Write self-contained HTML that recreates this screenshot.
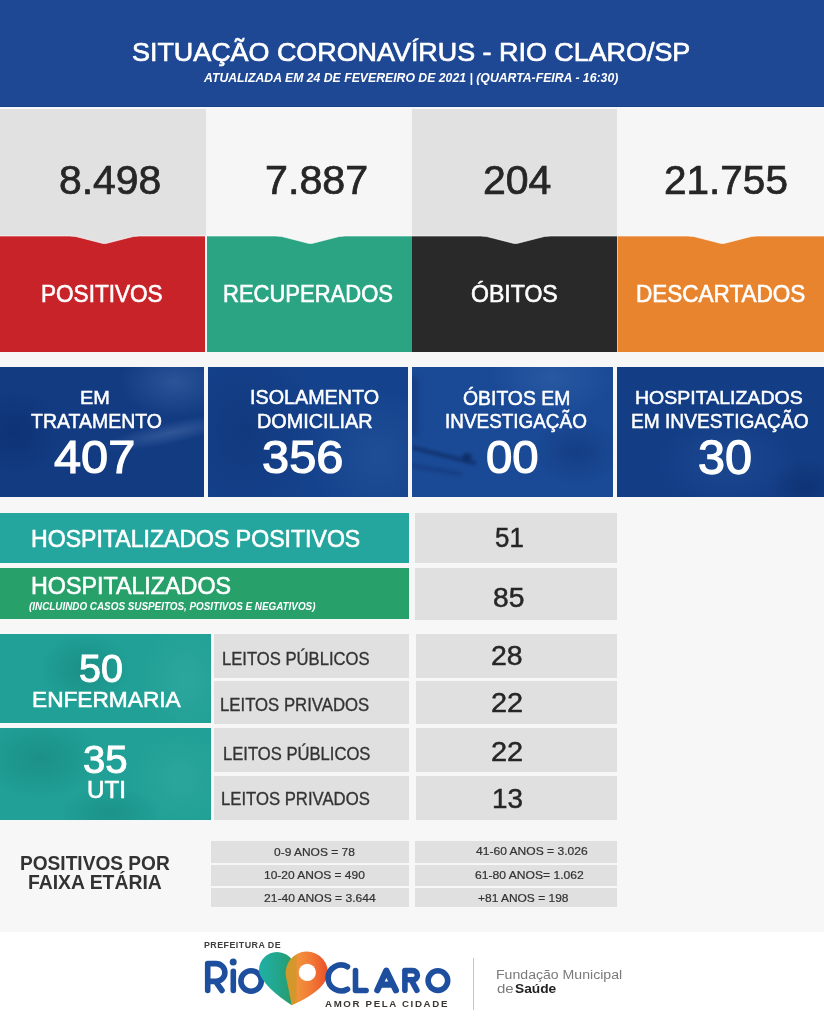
<!DOCTYPE html>
<html><head><meta charset="utf-8">
<style>
html,body{margin:0;padding:0;}
body{width:824px;height:1024px;position:relative;overflow:hidden;background:#f7f7f7;font-family:"Liberation Sans",sans-serif;}
.b{position:absolute;}
.t{position:absolute;white-space:nowrap;line-height:1;transform-origin:0 0;}
</style></head><body>
<!-- header -->
<div class="b" style="left:0;top:0;width:824px;height:106.5px;background:#1e4894;"></div>
<div class="b" style="left:0;top:105.5px;width:824px;height:1px;background:#1b4288;"></div>
<div class="b" style="left:0;top:106.5px;width:824px;height:2px;background:#f4f8fd;"></div>
<!-- numbers row -->
<div class="b" style="left:0;top:108.5px;width:206px;height:127.5px;background:#e2e1e2;"></div>
<div class="b" style="left:206px;top:108.5px;width:205.5px;height:127.5px;background:#f6f6f6;"></div>
<div class="b" style="left:411.5px;top:108.5px;width:205.5px;height:127.5px;background:#e2e1e2;"></div>
<div class="b" style="left:617px;top:108.5px;width:207px;height:127.5px;background:#f6f6f6;"></div>
<!-- colored row -->
<div class="b" style="left:0;top:236px;width:205.2px;height:116px;background:#c9232a;"></div>
<div class="b" style="left:206.5px;top:236px;width:205px;height:116px;background:#2aa482;"></div>
<div class="b" style="left:411.5px;top:236px;width:205.5px;height:116px;background:#292929;"></div>
<div class="b" style="left:617px;top:236px;width:207px;height:116px;background:#e8842e;"></div>
<div class="b" style="left:616.6px;top:236px;width:1px;height:116px;background:rgba(255,240,225,0.55);"></div>
<svg class="b" style="left:0;top:0" width="824" height="260" viewBox="0 0 824 260">
<path d="M69.5 235 L69.5 236 Q75.5 236 82.5 238.2 L102.0 243.2 Q104.5 243.9 107.0 243.2 L126.5 238.2 Q133.5 236 139.5 236 L139.5 235 Z" fill="#e2e1e2"/><path d="M275.5 235 L275.5 236 Q281.5 236 288.5 238.2 L308.0 243.2 Q310.5 243.9 313.0 243.2 L332.5 238.2 Q339.5 236 345.5 236 L345.5 235 Z" fill="#f6f6f6"/><path d="M480.5 235 L480.5 236 Q486.5 236 493.5 238.2 L513.0 243.2 Q515.5 243.9 518.0 243.2 L537.5 238.2 Q544.5 236 550.5 236 L550.5 235 Z" fill="#e2e1e2"/><path d="M687.5 235 L687.5 236 Q693.5 236 700.5 238.2 L720.0 243.2 Q722.5 243.9 725.0 243.2 L744.5 238.2 Q751.5 236 757.5 236 L757.5 235 Z" fill="#f6f6f6"/>
<path d="M0 236 L69.5 236 Q75.5 236 82.5 238.2 L102.0 243.2 Q104.5 243.9 107.0 243.2 L126.5 238.2 Q133.5 236 139.5 236 L275.5 236 Q281.5 236 288.5 238.2 L308.0 243.2 Q310.5 243.9 313.0 243.2 L332.5 238.2 Q339.5 236 345.5 236 L480.5 236 Q486.5 236 493.5 238.2 L513.0 243.2 Q515.5 243.9 518.0 243.2 L537.5 238.2 Q544.5 236 550.5 236 L687.5 236 Q693.5 236 700.5 238.2 L720.0 243.2 Q722.5 243.9 725.0 243.2 L744.5 238.2 Q751.5 236 757.5 236 L824 236" fill="none" stroke="#ffffff" stroke-opacity="0.6" stroke-width="1"/>
</svg>
<!-- blue boxes -->
<div class="b" style="left:0;top:367px;width:204.4px;height:130px;overflow:hidden;background:#123b82;">
  <div class="b" style="left:120px;top:-20px;width:110px;height:70px;border-radius:50%;background:radial-gradient(closest-side,rgba(95,135,200,0.32),rgba(95,135,200,0));"></div>
  <div class="b" style="left:100px;top:55px;width:140px;height:22px;transform:rotate(-12deg);background:radial-gradient(closest-side,rgba(120,150,200,0.30),rgba(120,150,200,0));"></div>
  <div class="b" style="left:-30px;top:20px;width:90px;height:90px;background:radial-gradient(closest-side,rgba(8,35,90,0.35),rgba(8,35,90,0));"></div>
</div>
<div class="b" style="left:208px;top:367px;width:199.8px;height:130px;overflow:hidden;background:#15428c;">
  <div class="b" style="left:-40px;top:-30px;width:150px;height:190px;background:radial-gradient(closest-side,rgba(10,40,100,0.35),rgba(10,40,100,0));"></div>
  <div class="b" style="left:100px;top:20px;width:140px;height:140px;background:radial-gradient(closest-side,rgba(60,110,180,0.25),rgba(60,110,180,0));"></div>
</div>
<div class="b" style="left:411.5px;top:367px;width:201.4px;height:130px;overflow:hidden;background:#1a4a96;">
  <div class="b" style="left:80px;top:-30px;width:120px;height:80px;background:radial-gradient(closest-side,rgba(70,115,185,0.35),rgba(70,115,185,0));"></div>
  <div class="b" style="left:0px;top:78px;width:66px;height:5px;transform:rotate(14deg);transform-origin:0 50%;background:rgba(12,40,95,0.55);filter:blur(1.5px);"></div>
  <div class="b" style="left:50px;top:86px;width:10px;height:8px;border-radius:50%;background:rgba(10,35,85,0.6);filter:blur(1.5px);"></div>
  <div class="b" style="left:-10px;top:100px;width:60px;height:4px;transform:rotate(10deg);background:rgba(12,40,95,0.4);filter:blur(2px);"></div>
  <div class="b" style="left:-10px;top:10px;width:16px;height:60px;background:rgba(12,40,95,0.35);filter:blur(3px);"></div>
  <div class="b" style="left:120px;top:50px;width:90px;height:70px;background:radial-gradient(closest-side,rgba(10,40,100,0.35),rgba(10,40,100,0));"></div>
</div>
<div class="b" style="left:617.1px;top:367px;width:206.9px;height:130px;overflow:hidden;background:#133e86;">
  <div class="b" style="left:40px;top:50px;width:140px;height:90px;background:radial-gradient(closest-side,rgba(50,95,170,0.30),rgba(50,95,170,0));"></div>
  <div class="b" style="left:150px;top:90px;width:80px;height:60px;background:radial-gradient(closest-side,rgba(10,35,90,0.4),rgba(10,35,90,0));"></div>
</div>
<!-- hosp rows -->
<div class="b" style="left:0;top:512.7px;width:409.2px;height:50.5px;background:#24a59d;"></div>
<div class="b" style="left:0;top:568px;width:409.2px;height:50.5px;background:#28a06a;"></div>
<div class="b" style="left:414.5px;top:512.7px;width:202.5px;height:50.3px;background:#e1e0e1;"></div>
<div class="b" style="left:414.5px;top:568px;width:202.5px;height:51.6px;background:#e1e0e1;"></div>
<!-- enfermaria / uti -->
<div class="b" style="left:0;top:633.6px;width:211px;height:89.8px;overflow:hidden;background:#20a096;">
  <div class="b" style="left:40px;top:0px;width:90px;height:70px;background:radial-gradient(closest-side,rgba(20,120,115,0.45),rgba(20,120,115,0));"></div>
  <div class="b" style="left:140px;top:-10px;width:90px;height:110px;background:radial-gradient(closest-side,rgba(70,180,170,0.35),rgba(70,180,170,0));"></div>
</div>
<div class="b" style="left:0;top:728px;width:211px;height:92px;overflow:hidden;background:#20a096;">
  <div class="b" style="left:-20px;top:-10px;width:120px;height:80px;background:radial-gradient(closest-side,rgba(20,120,115,0.40),rgba(20,120,115,0));"></div>
  <div class="b" style="left:130px;top:0px;width:100px;height:100px;background:radial-gradient(closest-side,rgba(70,180,170,0.30),rgba(70,180,170,0));"></div>
  <div class="b" style="left:60px;top:60px;width:100px;height:50px;background:radial-gradient(closest-side,rgba(20,120,115,0.35),rgba(20,120,115,0));"></div>
</div>
<div class="b" style="left:214.2px;top:634px;width:194.8px;height:43.5px;background:#e1e0e1;"></div>
<div class="b" style="left:214.2px;top:681.4px;width:194.8px;height:42.6px;background:#e1e0e1;"></div>
<div class="b" style="left:214.2px;top:727.7px;width:194.8px;height:44px;background:#e1e0e1;"></div>
<div class="b" style="left:214.2px;top:775.7px;width:194.8px;height:44.3px;background:#e1e0e1;"></div>
<div class="b" style="left:415.5px;top:634px;width:201.5px;height:43.5px;background:#e1e0e1;"></div>
<div class="b" style="left:415.5px;top:681.4px;width:201.5px;height:42.6px;background:#e1e0e1;"></div>
<div class="b" style="left:415.5px;top:727.7px;width:201.5px;height:44px;background:#e1e0e1;"></div>
<div class="b" style="left:415.5px;top:775.7px;width:201.5px;height:44.3px;background:#e1e0e1;"></div>
<!-- age table -->
<div class="b" style="left:211.2px;top:841.3px;width:197.5px;height:21.9px;background:#e1e0e1;"></div>
<div class="b" style="left:211.2px;top:864.5px;width:197.5px;height:21.5px;background:#e1e0e1;"></div>
<div class="b" style="left:211.2px;top:887.5px;width:197.5px;height:19.3px;background:#e1e0e1;"></div>
<div class="b" style="left:415.3px;top:841.3px;width:201.7px;height:21.9px;background:#e1e0e1;"></div>
<div class="b" style="left:415.3px;top:864.5px;width:201.7px;height:21.5px;background:#e1e0e1;"></div>
<div class="b" style="left:415.3px;top:887.5px;width:201.7px;height:19.3px;background:#e1e0e1;"></div>
<!-- footer -->
<div class="b" style="left:0;top:931.5px;width:824px;height:93px;background:#ffffff;"></div>
<div class="b" style="left:472.6px;top:957.5px;width:1.5px;height:52px;background:#c4c4c4;"></div>
<svg class="b" style="left:0;top:930px" width="824" height="94" viewBox="0 930 824 94">
<defs>
<linearGradient id="gt" x1="259" y1="0" x2="298" y2="0" gradientUnits="userSpaceOnUse"><stop offset="0" stop-color="#20b0a6"/><stop offset="0.5" stop-color="#22a58a"/><stop offset="1" stop-color="#2b985a"/></linearGradient>
<linearGradient id="go" x1="285" y1="0" x2="328" y2="0" gradientUnits="userSpaceOnUse"><stop offset="0" stop-color="#cf9a2c"/><stop offset="0.24" stop-color="#d6962b"/><stop offset="0.30" stop-color="#f0923c"/><stop offset="0.6" stop-color="#f27a35"/><stop offset="1" stop-color="#e9502a"/></linearGradient>
</defs>
<g fill="none" stroke="#1e4f9f" stroke-width="5.6" stroke-linecap="round" stroke-linejoin="round">
<path d="M207.7 963.6 L207.7 990.5 M207.7 963.6 L216 963.6 A8.9 8.9 0 0 1 216 981.4 L207.7 981.4 M215.5 981.4 L222 990.5"/>
<path d="M233.3 971.3 L233.3 990.5"/>
<circle cx="251.1" cy="981" r="10.2"/>
</g>
<circle cx="233.2" cy="961.9" r="3.5" fill="#1e4f9f"/>
<path d="M291.7 1005.3 Q265 988 259.27 973.1 A18 18 0 0 1 294.39 965.34 Z" fill="url(#gt)"/>
<path d="M291.7 1005.3 Q322 992 327.68 976.5 A21.2 21.2 0 1 0 286.06 977.2 Q288.6 989 291.7 1005.3 Z" fill="url(#go)"/>
<circle cx="307.3" cy="972.4" r="8.6" fill="#ffffff"/>
<g fill="none" stroke="#1e4f9f" stroke-width="5.6" stroke-linecap="round" stroke-linejoin="round">
<path d="M347.5 966.7 A12.95 12.95 0 1 0 347.5 989.2"/>
<path d="M355.5 970.6 L355.5 990.5 L366.1 990.5"/>
<path d="M377.3 990.3 L386.3 970.6 L395.9 990.3 M380 984.6 L393 984.6" stroke-width="6.2"/>
<path d="M404.9 970.6 L404.9 990.3 M404.9 970.6 L412.8 970.6 A4.6 4.6 0 0 1 412.8 979.8 L404.9 979.8 M411.2 979.8 L416.9 990.3"/>
<circle cx="437.9" cy="980.6" r="9.8"/>
</g>
</svg>

<div class="t" style="left:132.44px;top:39.42px;font-size:26.61px;font-weight:normal;font-style:normal;color:#ffffff;transform:scaleX(1.0105);-webkit-text-stroke:0.69px #ffffff">SITUAÇÃO CORONAVÍRUS - RIO CLARO/SP</div>
<div class="t" style="left:203.95px;top:71.12px;font-size:13.08px;font-weight:bold;font-style:italic;color:#ffffff;transform:scaleX(0.9366)">ATUALIZADA EM 24 DE FEVEREIRO DE 2021 | (QUARTA-FEIRA - 16:30)</div>
<div class="t" style="left:58.53px;top:159.69px;font-size:40.33px;font-weight:normal;font-style:normal;color:#262626;transform:scaleX(1.0140);-webkit-text-stroke:0.73px #262626">8.498</div>
<div class="t" style="left:264.91px;top:159.69px;font-size:40.33px;font-weight:normal;font-style:normal;color:#262626;transform:scaleX(1.0223);-webkit-text-stroke:0.73px #262626">7.887</div>
<div class="t" style="left:483.12px;top:159.69px;font-size:40.33px;font-weight:normal;font-style:normal;color:#262626;transform:scaleX(1.0162);-webkit-text-stroke:0.73px #262626">204</div>
<div class="t" style="left:663.84px;top:159.69px;font-size:40.33px;font-weight:normal;font-style:normal;color:#262626;transform:scaleX(1.0049);-webkit-text-stroke:0.73px #262626">21.755</div>
<div class="t" style="left:41.13px;top:282.36px;font-size:24.00px;font-weight:normal;font-style:normal;color:#ffffff;transform:scaleX(0.9398);-webkit-text-stroke:0.62px #ffffff">POSITIVOS</div>
<div class="t" style="left:223.17px;top:282.36px;font-size:24.00px;font-weight:normal;font-style:normal;color:#ffffff;transform:scaleX(0.9170);-webkit-text-stroke:0.62px #ffffff">RECUPERADOS</div>
<div class="t" style="left:471.20px;top:282.62px;font-size:23.71px;font-weight:normal;font-style:normal;color:#ffffff;transform:scaleX(0.9729);-webkit-text-stroke:0.62px #ffffff">ÓBITOS</div>
<div class="t" style="left:636.13px;top:282.36px;font-size:24.00px;font-weight:normal;font-style:normal;color:#ffffff;transform:scaleX(0.9384);-webkit-text-stroke:0.62px #ffffff">DESCARTADOS</div>
<div class="t" style="left:79.82px;top:388.32px;font-size:19.05px;font-weight:normal;font-style:normal;color:#ffffff;transform:scaleX(1.0454);-webkit-text-stroke:0.50px #ffffff">EM</div>
<div class="t" style="left:30.51px;top:411.72px;font-size:19.75px;font-weight:normal;font-style:normal;color:#ffffff;transform:scaleX(0.9865);-webkit-text-stroke:0.51px #ffffff">TRATAMENTO</div>
<div class="t" style="left:54.14px;top:434.41px;font-size:46.90px;font-weight:normal;font-style:normal;color:#ffffff;transform:scaleX(1.0392);-webkit-text-stroke:1.22px #ffffff">407</div>
<div class="t" style="left:249.93px;top:388.08px;font-size:19.33px;font-weight:normal;font-style:normal;color:#ffffff;transform:scaleX(1.0213);-webkit-text-stroke:0.50px #ffffff">ISOLAMENTO</div>
<div class="t" style="left:256.92px;top:411.96px;font-size:19.47px;font-weight:normal;font-style:normal;color:#ffffff;transform:scaleX(1.0191);-webkit-text-stroke:0.51px #ffffff">DOMICILIAR</div>
<div class="t" style="left:262.10px;top:433.92px;font-size:46.08px;font-weight:normal;font-style:normal;color:#ffffff;transform:scaleX(1.0585);-webkit-text-stroke:1.20px #ffffff">356</div>
<div class="t" style="left:463.03px;top:389.18px;font-size:19.33px;font-weight:normal;font-style:normal;color:#ffffff;transform:scaleX(1.0027);-webkit-text-stroke:0.50px #ffffff">ÓBITOS EM</div>
<div class="t" style="left:444.80px;top:411.84px;font-size:19.61px;font-weight:normal;font-style:normal;color:#ffffff;transform:scaleX(0.9643);-webkit-text-stroke:0.51px #ffffff">INVESTIGAÇÃO</div>
<div class="t" style="left:486.12px;top:433.69px;font-size:46.35px;font-weight:normal;font-style:normal;color:#ffffff;transform:scaleX(1.0211);-webkit-text-stroke:1.21px #ffffff">00</div>
<div class="t" style="left:635.44px;top:388.10px;font-size:19.19px;font-weight:normal;font-style:normal;color:#ffffff;transform:scaleX(1.0167);-webkit-text-stroke:0.50px #ffffff">HOSPITALIZADOS</div>
<div class="t" style="left:630.77px;top:411.84px;font-size:19.61px;font-weight:normal;font-style:normal;color:#ffffff;transform:scaleX(0.9760);-webkit-text-stroke:0.51px #ffffff">EM INVESTIGAÇÃO</div>
<div class="t" style="left:697.71px;top:432.79px;font-size:48.53px;font-weight:normal;font-style:normal;color:#ffffff;transform:scaleX(1.0020);-webkit-text-stroke:1.26px #ffffff">30</div>
<div class="t" style="left:30.50px;top:526.69px;font-size:23.86px;font-weight:normal;font-style:normal;color:#ffffff;transform:scaleX(0.9676);-webkit-text-stroke:0.62px #ffffff">HOSPITALIZADOS POSITIVOS</div>
<div class="t" style="left:31.38px;top:574.54px;font-size:23.56px;font-weight:normal;font-style:normal;color:#ffffff;transform:scaleX(0.9883);-webkit-text-stroke:0.61px #ffffff">HOSPITALIZADOS</div>
<div class="t" style="left:29.35px;top:601.32px;font-size:10.61px;font-weight:bold;font-style:italic;color:#ffffff;transform:scaleX(0.9304)">(INCLUINDO CASOS SUSPEITOS, POSITIVOS E NEGATIVOS)</div>
<div class="t" style="left:495.40px;top:524.13px;font-size:27.11px;font-weight:normal;font-style:normal;color:#262626;transform:scaleX(0.9535);-webkit-text-stroke:0.49px #262626">51</div>
<div class="t" style="left:492.95px;top:584.55px;font-size:26.74px;font-weight:normal;font-style:normal;color:#262626;transform:scaleX(1.0552);-webkit-text-stroke:0.48px #262626">85</div>
<div class="t" style="left:78.83px;top:648.85px;font-size:39.26px;font-weight:normal;font-style:normal;color:#ffffff;transform:scaleX(1.0058);-webkit-text-stroke:1.02px #ffffff">50</div>
<div class="t" style="left:31.52px;top:688.29px;font-size:22.69px;font-weight:normal;font-style:normal;color:#ffffff;transform:scaleX(0.9997);-webkit-text-stroke:0.59px #ffffff">ENFERMARIA</div>
<div class="t" style="left:83.22px;top:739.55px;font-size:39.26px;font-weight:normal;font-style:normal;color:#ffffff;transform:scaleX(1.0226);-webkit-text-stroke:1.02px #ffffff">35</div>
<div class="t" style="left:86.64px;top:779.39px;font-size:23.39px;font-weight:normal;font-style:normal;color:#ffffff;transform:scaleX(1.0353);-webkit-text-stroke:0.61px #ffffff">UTI</div>
<div class="t" style="left:222.48px;top:651.17px;font-size:17.56px;font-weight:normal;font-style:normal;color:#333333;transform:scaleX(0.9483);-webkit-text-stroke:0.32px #333333">LEITOS PÚBLICOS</div>
<div class="t" style="left:219.97px;top:696.77px;font-size:17.56px;font-weight:normal;font-style:normal;color:#333333;transform:scaleX(0.9543);-webkit-text-stroke:0.32px #333333">LEITOS PRIVADOS</div>
<div class="t" style="left:223.08px;top:745.87px;font-size:17.56px;font-weight:normal;font-style:normal;color:#333333;transform:scaleX(0.9470);-webkit-text-stroke:0.32px #333333">LEITOS PÚBLICOS</div>
<div class="t" style="left:220.97px;top:791.27px;font-size:17.56px;font-weight:normal;font-style:normal;color:#333333;transform:scaleX(0.9517);-webkit-text-stroke:0.32px #333333">LEITOS PRIVADOS</div>
<div class="t" style="left:491.14px;top:641.85px;font-size:27.43px;font-weight:normal;font-style:normal;color:#262626;transform:scaleX(1.0351);-webkit-text-stroke:0.49px #262626">28</div>
<div class="t" style="left:491.12px;top:689.22px;font-size:27.67px;font-weight:normal;font-style:normal;color:#262626;transform:scaleX(1.0440);-webkit-text-stroke:0.50px #262626">22</div>
<div class="t" style="left:491.12px;top:739.12px;font-size:26.97px;font-weight:normal;font-style:normal;color:#262626;transform:scaleX(1.0711);-webkit-text-stroke:0.49px #262626">22</div>
<div class="t" style="left:491.56px;top:785.93px;font-size:26.88px;font-weight:normal;font-style:normal;color:#262626;transform:scaleX(1.0346);-webkit-text-stroke:0.48px #262626">13</div>
<div class="t" style="left:19.61px;top:852.52px;font-size:20.06px;font-weight:bold;font-style:normal;color:#333333;transform:scaleX(0.9533)">POSITIVOS POR</div>
<div class="t" style="left:27.89px;top:873.49px;font-size:19.62px;font-weight:bold;font-style:normal;color:#333333;transform:scaleX(0.9875)">FAIXA ETÁRIA</div>
<div class="t" style="left:273.53px;top:846.88px;font-size:11.47px;font-weight:normal;font-style:normal;color:#333333;transform:scaleX(1.0439);-webkit-text-stroke:0.21px #333333">0-9 ANOS = 78</div>
<div class="t" style="left:263.71px;top:869.78px;font-size:11.47px;font-weight:normal;font-style:normal;color:#333333;transform:scaleX(1.0435);-webkit-text-stroke:0.21px #333333">10-20 ANOS = 490</div>
<div class="t" style="left:263.51px;top:893.48px;font-size:11.47px;font-weight:normal;font-style:normal;color:#333333;transform:scaleX(1.0521);-webkit-text-stroke:0.21px #333333">21-40 ANOS = 3.644</div>
<div class="t" style="left:476.44px;top:846.48px;font-size:11.47px;font-weight:normal;font-style:normal;color:#333333;transform:scaleX(1.0516);-webkit-text-stroke:0.21px #333333">41-60 ANOS = 3.026</div>
<div class="t" style="left:474.60px;top:870.48px;font-size:11.47px;font-weight:normal;font-style:normal;color:#333333;transform:scaleX(1.0563);-webkit-text-stroke:0.21px #333333">61-80 ANOS= 1.062</div>
<div class="t" style="left:477.54px;top:893.08px;font-size:11.47px;font-weight:normal;font-style:normal;color:#333333;transform:scaleX(1.0429);-webkit-text-stroke:0.21px #333333">+81 ANOS = 198</div>
<div class="t" style="left:203.70px;top:941.32px;font-size:8.72px;font-weight:bold;font-style:normal;color:#3d3d3d;transform:scaleX(1.0174);letter-spacing:0.450px">PREFEITURA DE</div>
<div class="t" style="left:325.16px;top:999.99px;font-size:8.87px;font-weight:bold;font-style:normal;color:#3b3632;transform:scaleX(1.0948);letter-spacing:1.500px">AMOR PELA CIDADE</div>
<div class="t" style="left:496.44px;top:968.42px;font-size:13.08px;font-weight:normal;font-style:normal;color:#7a7a7a;transform:scaleX(1.0780)">Fundação Municipal</div>
<div class="t" style="left:496.96px;top:982.41px;font-size:13.10px;font-weight:normal;font-style:normal;color:#7a7a7a;transform:scaleX(1.1469)">de</div>
<div class="t" style="left:515.09px;top:981.93px;font-size:13.66px;font-weight:bold;font-style:normal;color:#222222;transform:scaleX(1.0066)">Saúde</div>
</body></html>
